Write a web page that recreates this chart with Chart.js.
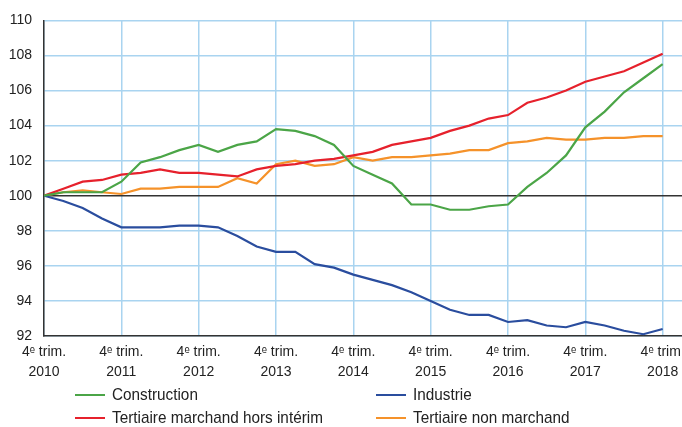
<!DOCTYPE html>
<html>
<head>
<meta charset="utf-8">
<script src="https://cdn.jsdelivr.net/npm/chart.js@4"></script>
<style>
  body { margin: 0; background: #fff; }
  #wrap { position: relative; width: 682px; height: 427px; }
  #legend { position: absolute; left: 0; top: 385px; width: 682px; font-family: 'Liberation Sans', Arial, sans-serif; font-size: 17px; color: #222; }
  .item { position: absolute; display: flex; align-items: center; white-space: nowrap; }
  .sw { width: 30px; height: 2.5px; margin-right: 7px; }
  .txt { display: inline-block; transform: scaleX(0.9); transform-origin: left center; }
</style>
</head>
<body>
<div id="wrap">
  <canvas id="graph" width="682" height="427"></canvas>
  <div id="legend"></div>
</div>
<script>
// trimestres, du 4e trim. 2010 au 4e trim. 2018
const quarters = [
  '2010T4', '2011T1', '2011T2', '2011T3', '2011T4', '2012T1', '2012T2', '2012T3', '2012T4',
  '2013T1', '2013T2', '2013T3', '2013T4', '2014T1', '2014T2', '2014T3', '2014T4',
  '2015T1', '2015T2', '2015T3', '2015T4', '2016T1', '2016T2', '2016T3', '2016T4',
  '2017T1', '2017T2', '2017T3', '2017T4', '2018T1', '2018T2', '2018T3', '2018T4'
]
const years = ['2010', '2011', '2012', '2013', '2014', '2015', '2016', '2017', '2018']

const construction = [100, 100.2, 100.2, 100.2, 100.8, 101.9, 102.2, 102.6, 102.9, 102.5, 102.9, 103.1, 103.8,
  103.7, 103.4, 102.9, 101.7, 101.2, 100.7, 99.5, 99.5, 99.2, 99.2, 99.4, 99.5,
  100.5, 101.3, 102.3, 103.9, 104.8, 105.9, 106.7, 107.5]
const industrie = [100, 99.7, 99.3, 98.7, 98.2, 98.2, 98.2, 98.3, 98.3, 98.2, 97.7, 97.1, 96.8,
  96.8, 96.1, 95.9, 95.5, 95.2, 94.9, 94.5, 94.0, 93.5, 93.2, 93.2, 92.8,
  92.9, 92.6, 92.5, 92.8, 92.6, 92.3, 92.1, 92.4]
const tertiaireMarchand = [100, 100.4, 100.8, 100.9, 101.2, 101.3, 101.5, 101.3, 101.3, 101.2, 101.1, 101.5, 101.7,
  101.8, 102.0, 102.1, 102.3, 102.5, 102.9, 103.1, 103.3, 103.7, 104.0, 104.4, 104.6,
  105.3, 105.6, 106.0, 106.5, 106.8, 107.1, 107.6, 108.1]
const tertiaireNonMarchand = [100, 100.2, 100.3, 100.2, 100.1, 100.4, 100.4, 100.5, 100.5, 100.5, 101.0, 100.7, 101.8,
  102.0, 101.7, 101.8, 102.2, 102.0, 102.2, 102.2, 102.3, 102.4, 102.6, 102.6, 103.0,
  103.1, 103.3, 103.2, 103.2, 103.3, 103.3, 103.4, 103.4]

const series = [
  { label: 'Construction', data: construction, color: '#4ba547' },
  { label: 'Industrie', data: industrie, color: '#2a4d9e' },
  { label: 'Tertiaire marchand hors intérim', data: tertiaireMarchand, color: '#e6212c' },
  { label: 'Tertiaire non marchand', data: tertiaireNonMarchand, color: '#f5922a' }
]

const police = "'Liberation Sans', Arial, sans-serif"

const config = {
  type: 'line',
  data: {
    datasets: series.map(s => ({
      label: s.label,
      data: s.data.map((v, i) => ({ x: i, y: v })),
      borderColor: s.color,
      backgroundColor: s.color,
      borderWidth: 2.2,
      pointRadius: 0,
      tension: 0
    }))
  },
  options: {
    responsive: false,
    animation: false,
    layout: { padding: 0 },
    plugins: {
      legend: { display: false },
      tooltip: { enabled: false }
    },
    scales: {
      x: {
        type: 'linear',
        min: 0,
        max: quarters.length,
        afterBuildTicks: axis => {
          axis.ticks = axis.ticks.filter(t => t.value % 4 === 0 && t.value < quarters.length)
        },
        afterFit: scale => {
          scale.height = 91
          scale.paddingLeft = 0
          scale.paddingRight = 0
        },
        grid: { color: '#a9d4f0', lineWidth: 1.5, drawTicks: false },
        border: { color: '#333', width: 1.5 },
        ticks: {
          stepSize: 4,
          includeBounds: false,
          autoSkip: false,
          maxRotation: 0,
          padding: 6,
          color: '#222',
          font: { family: police, size: 14, lineHeight: 1.45 },
          callback: v => ['4ᵉ trim.', years[v / 4]]
        }
      },
      y: {
        min: 92,
        max: 110,
        afterFit: scale => { scale.width = 44 },
        grid: {
          color: ctx => ctx.tick && ctx.tick.value === 100 ? '#333' : '#a9d4f0',
          lineWidth: 1.5,
          drawTicks: false
        },
        border: { color: '#333', width: 1.5 },
        ticks: {
          stepSize: 2,
          padding: 12,
          color: '#222',
          font: { family: police, size: 14 }
        }
      }
    }
  }
}

const chart = new Chart(document.getElementById('graph'), config)

// légende sur deux colonnes
const legend = document.getElementById('legend')
const cols = [75, 376]
series.forEach((s, k) => {
  const pos = [0, 2, 1, 3][k]
  const item = document.createElement('div')
  item.className = 'item'
  item.style.left = cols[pos < 2 ? 0 : 1] + 'px'
  item.style.top = (pos % 2) * 23 + 'px'
  item.innerHTML = '<span class="sw" style="background:' + s.color + '"></span><span class="txt">' + s.label + '</span>'
  legend.appendChild(item)
})
</script>
</body>
</html>
